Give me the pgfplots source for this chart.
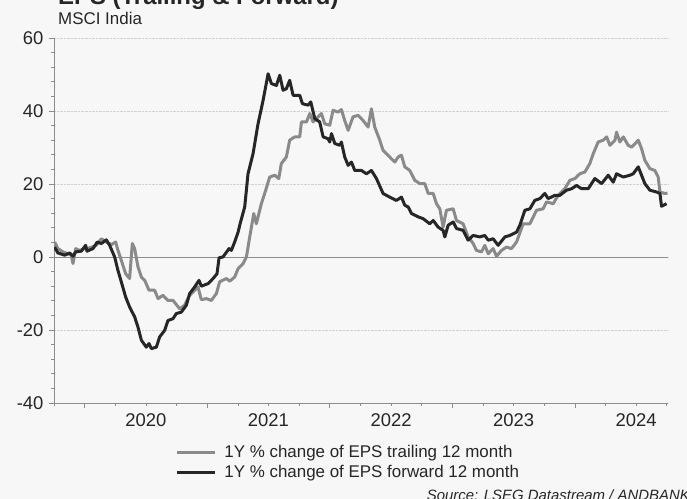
\documentclass[border=0pt]{standalone}
\usepackage{pgfplots}
\pgfplotsset{compat=1.18}
\usepackage{fontspec}
\setmainfont{Liberation Sans}
\definecolor{bg}{HTML}{F7F7F7}
\definecolor{trail}{HTML}{8A8A8A}
\definecolor{fwd}{HTML}{262626}
\definecolor{axgray}{HTML}{8C8C8C}
\definecolor{txt}{HTML}{262626}
\begin{document}
\begin{tikzpicture}[x=1bp,y=1bp]
\path[use as bounding box, fill=bg] (0,0) rectangle (687,499);
\node[anchor=base west, font=\bfseries\fontsize{24}{26}\selectfont, text=txt, inner sep=0pt] at (58,494.5) {EPS (Trailing \& Forward)};
\node[anchor=base west, font=\fontsize{17}{19}\selectfont, text=txt, inner sep=0pt] at (58,474) {MSCI India};
\node[anchor=base east, font=\itshape\fontsize{15}{17}\selectfont, text=txt, inner sep=0pt] at (690,-2) {Source: LSEG Datastream / ANDBANK};
\begin{axis}[at={(54bp,96bp)}, anchor=south west, scale only axis,
  width=614bp, height=365bp,
  xmin=2019.75, xmax=2024.76, ymin=-40, ymax=60,
  axis x line*=bottom, axis y line*=left,
  ytick={-40,-20,...,60}, minor y tick num=4,
  xtick={2020,2021,2022,2023,2024}, xticklabels={},
  minor xtick={2019.75,2020.25,2020.5,2020.75,2021.25,2021.5,2021.75,2022.25,2022.5,2022.75,2023.25,2023.5,2023.75,2024.25,2024.5,2024.75},
  extra x ticks={2020.5,2021.5,2022.5,2023.5,2024.5},
  extra x tick labels={2020,2021,2022,2023,2024},
  extra x tick style={major tick length=0pt, grid=none, xticklabel style={yshift=-7bp}},
  ymajorgrids, grid style={densely dotted, color=black!18, line width=0.5pt},
  tick align=outside, major tick length=5bp, minor tick length=3bp,
  tick style={axgray, line width=0.6pt},
  axis line style={axgray, line width=0.8pt},
  ticklabel style={font=\fontsize{18.5}{20}\selectfont, text=txt},
  yticklabel style={xshift=-2bp},
  /pgf/number format/assume math mode=true,
  legend style={at={(0.193,-0.105)}, anchor=north west, draw=none, fill=none,
    font=\fontsize{17}{19}\selectfont, text=txt, row sep=2bp,
    nodes={inner sep=2bp}, /tikz/every odd column/.append style={column sep=6bp}},
  legend cell align=left,
  legend image code/.code={\draw[#1, line width=2.7pt] (0bp,0bp) -- (38bp,0bp);},
]
\addplot[forget plot, axgray, line width=0.8pt] coordinates {(2019.75,0) (2024.76,0)};
\addplot[trail, line width=3bp, line join=round] coordinates {
(2019.755,4.1) (2019.782,2.3) (2019.823,1.4) (2019.864,0.9) (2019.891,0.5) (2019.905,-1.8)
(2019.927,2.3) (2019.959,1.8) (2020.000,2.3) (2020.041,2.5) (2020.095,3.2) (2020.136,5.0)
(2020.177,4.1) (2020.218,3.4) (2020.253,4.1) (2020.272,1.8) (2020.299,-0.9) (2020.335,-4.6)
(2020.367,-5.9) (2020.389,3.7) (2020.408,2.3) (2020.435,-2.7) (2020.463,-5.5) (2020.490,-6.4)
(2020.525,-9.1) (2020.571,-9.1) (2020.599,-11.4) (2020.639,-10.5) (2020.680,-11.9) (2020.721,-11.9)
(2020.776,-14.2) (2020.816,-13.2) (2020.857,-10.5) (2020.898,-9.1) (2020.925,-8.2) (2020.952,-11.7)
(2020.993,-11.4) (2021.034,-11.9) (2021.075,-10.0) (2021.102,-6.8) (2021.156,-5.9) (2021.184,-6.6)
(2021.224,-5.5) (2021.252,-3.2) (2021.293,-1.8) (2021.320,0) (2021.347,5.5) (2021.380,11.9)
(2021.401,9.1) (2021.442,14.6) (2021.469,17.4) (2021.510,21.9) (2021.551,22.4) (2021.584,21.5)
(2021.605,25.6) (2021.646,27.4) (2021.673,32.0) (2021.714,32.9) (2021.755,32.9) (2021.769,37.0)
(2021.810,37.0) (2021.837,39.3) (2021.864,37.0) (2021.905,38.4) (2021.932,39.3) (2021.959,36.5)
(2022.000,36.1) (2022.027,40.2) (2022.068,39.7) (2022.095,40.4) (2022.122,37.4) (2022.150,34.7)
(2022.190,38.4) (2022.231,38.8) (2022.272,37.4) (2022.313,35.6) (2022.340,40.6) (2022.367,35.6)
(2022.408,32.0) (2022.435,29.2) (2022.463,28.3) (2022.503,26.9) (2022.531,26.0) (2022.558,27.4)
(2022.585,27.9) (2022.612,24.7) (2022.653,23.7) (2022.694,21.0) (2022.735,20.1) (2022.776,20.1)
(2022.803,17.4) (2022.844,17.4) (2022.871,14.6) (2022.898,13.2) (2022.925,8.2) (2022.952,12.8)
(2023.007,13.2) (2023.034,10.0) (2023.088,9.1) (2023.129,5.5) (2023.170,3.7) (2023.197,1.8)
(2023.238,1.4) (2023.265,3.2) (2023.293,0.9) (2023.333,2.3) (2023.361,0.2) (2023.401,1.8)
(2023.442,2.7) (2023.483,2.3) (2023.524,4.1) (2023.578,9.1) (2023.633,9.1) (2023.687,12.8)
(2023.741,13.2) (2023.769,15.1) (2023.823,14.6) (2023.864,16.9) (2023.918,18.7) (2023.959,21.0)
(2024.000,21.5) (2024.041,22.8) (2024.082,23.3) (2024.122,25.6) (2024.150,28.3) (2024.190,31.5)
(2024.231,32.0) (2024.259,32.9) (2024.286,30.6) (2024.327,32.0) (2024.340,34.2) (2024.367,31.5)
(2024.395,32.9) (2024.435,30.6) (2024.463,30.1) (2024.490,31.0) (2024.517,32.0) (2024.544,29.7)
(2024.571,26.5) (2024.612,24.2) (2024.653,23.7) (2024.680,21.9) (2024.694,17.8) (2024.735,17.4)
(2024.756,17.5)
};
\addlegendentry{1Y \% change of EPS trailing 12 month}
\addplot[fwd, line width=3bp, line join=round] coordinates {
(2019.755,2.7) (2019.782,1.1) (2019.837,0.5) (2019.878,1.1) (2019.905,0.2) (2019.927,1.4)
(2019.973,1.6) (2020.008,3.2) (2020.019,1.6) (2020.068,2.3) (2020.103,4.1) (2020.136,3.7)
(2020.177,4.7) (2020.204,3.2) (2020.245,0) (2020.272,-3.7) (2020.299,-6.8) (2020.335,-11)
(2020.367,-13.7) (2020.408,-16.4) (2020.435,-19.2) (2020.463,-22.8) (2020.503,-24.7) (2020.525,-23.7)
(2020.544,-25.1) (2020.585,-24.7) (2020.612,-21.9) (2020.653,-20.1) (2020.680,-17.4) (2020.721,-16.9)
(2020.748,-15.5) (2020.789,-15.1) (2020.830,-13.2) (2020.857,-10) (2020.898,-8.2) (2020.933,-6.4)
(2020.952,-8.0) (2021.007,-7.3) (2021.048,-5.9) (2021.080,-4.6) (2021.097,-0.2) (2021.129,0)
(2021.178,2.3) (2021.197,1.8) (2021.224,4.1) (2021.252,6.8) (2021.270,9.3) (2021.306,13.7)
(2021.333,22.8) (2021.374,28.3) (2021.415,36.5) (2021.456,42.9) (2021.497,50.2) (2021.524,47.5)
(2021.565,47) (2021.592,49.8) (2021.619,45.7) (2021.646,46.1) (2021.673,48.4) (2021.701,44.3)
(2021.755,44.3) (2021.777,42) (2021.823,41.6) (2021.845,42.5) (2021.878,37.9) (2021.918,37.0)
(2021.946,32.9) (2021.986,32.4) (2022.000,31.5) (2022.014,33.8) (2022.041,31.1) (2022.082,30.6)
(2022.095,31.5) (2022.122,27.4) (2022.150,25.1) (2022.177,26.0) (2022.204,23.7) (2022.259,23.7)
(2022.299,22.8) (2022.340,23.7) (2022.381,21.5) (2022.435,17.4) (2022.490,16.4) (2022.544,15.5)
(2022.585,16.4) (2022.612,14.2) (2022.640,13.7) (2022.667,11.9) (2022.721,11.0) (2022.762,10.5)
(2022.816,9.1) (2022.844,10.0) (2022.884,8.2) (2022.925,7.3) (2022.939,5.5) (2022.966,8.7)
(2023.007,9.6) (2023.034,7.8) (2023.088,7.3) (2023.129,4.6) (2023.170,5.9) (2023.224,5.5)
(2023.265,5.9) (2023.293,4.6) (2023.333,5.0) (2023.374,3.2) (2023.429,5.5) (2023.469,5.9)
(2023.524,6.8) (2023.551,8.7) (2023.592,12.8) (2023.633,13.2) (2023.673,15.5) (2023.714,16.0)
(2023.755,17.4) (2023.782,16.0) (2023.837,16.9) (2023.878,16.9) (2023.932,18.3) (2023.973,18.7)
(2024.014,19.6) (2024.054,18.7) (2024.109,18.7) (2024.163,21.5) (2024.218,20.1) (2024.272,22.4)
(2024.313,20.5) (2024.340,22.8) (2024.395,21.9) (2024.449,22.4) (2024.476,22.8) (2024.517,24.7)
(2024.544,22.4) (2024.571,20.1) (2024.612,18.3) (2024.667,17.8) (2024.694,17.4) (2024.707,13.9)
(2024.748,14.6)
};
\addlegendentry{1Y \% change of EPS forward 12 month}
\end{axis}
\end{tikzpicture}
\end{document}
